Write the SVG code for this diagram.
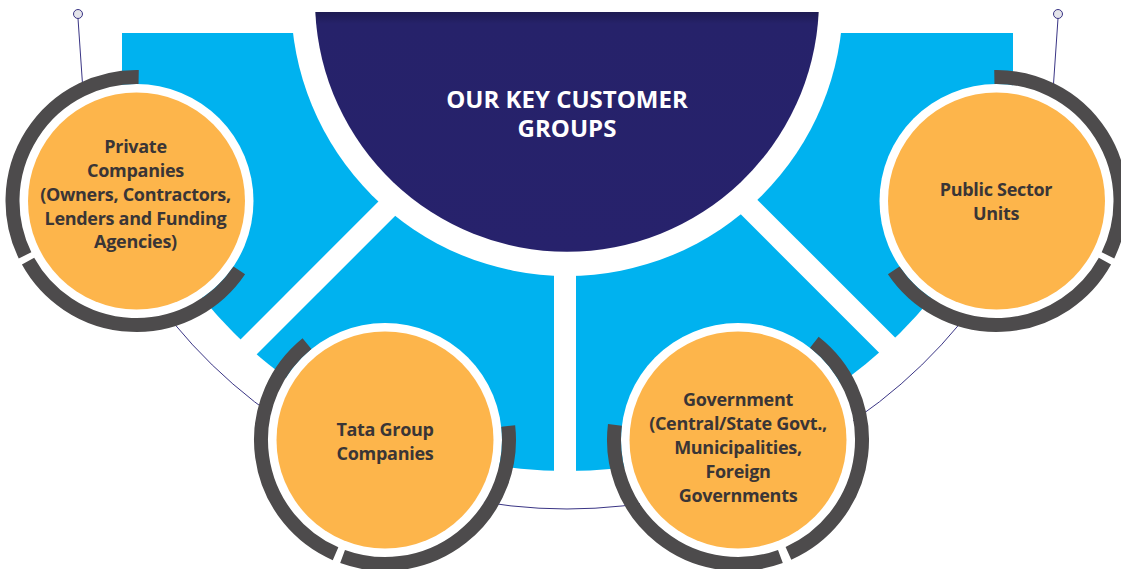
<svg xmlns="http://www.w3.org/2000/svg" width="1121" height="569" viewBox="0 0 1121 569">
  <style>
    .ring { fill: none; stroke: #4d4b4c; stroke-width: 14; }
    .disc { fill: #ffffff; }
    .core { fill: #fdb54b; }
    .lbl { font-family: "Open Sans", "Liberation Sans", sans-serif; font-weight: 700; font-size: 18px; letter-spacing: -0.3px; fill: #3a3536; text-anchor: middle; }
    .hdr { font-family: "Open Sans", "Liberation Sans", sans-serif; font-weight: 700; font-size: 24px; fill: #ffffff; text-anchor: middle; }
    .thin { fill: none; stroke: #3a3585; stroke-width: 1; }
  </style>
  <defs>
    <clipPath id="fanClip">
      <rect x="122" y="33" width="891" height="480"/>
    </clipPath>
    <linearGradient id="navy" x1="0" y1="12" x2="0" y2="252" gradientUnits="userSpaceOnUse">
      <stop offset="0" stop-color="#1e1b52"/>
      <stop offset="0.05" stop-color="#26226a"/>
      <stop offset="1" stop-color="#27226c"/>
    </linearGradient>
  </defs>
  <rect width="1121" height="569" fill="#ffffff"/>

  <!-- blue fan -->
  <g id="fan">
    <circle cx="567" cy="0" r="471" fill="#00b2ef" clip-path="url(#fanClip)"/>
    <circle cx="567" cy="0" r="276" fill="#ffffff"/>
    <line x1="405" y1="190.5" x2="150" y2="445.5" stroke="#ffffff" stroke-width="22"/>
    <line x1="729" y1="187" x2="984" y2="442" stroke="#ffffff" stroke-width="22"/>
    <line x1="565" y1="260" x2="565" y2="490" stroke="#ffffff" stroke-width="22"/>
  </g>

  <!-- connectors -->
  <g id="connectors">
    <path class="thin" d="M 174.25 323.76 A 509 509 0 0 0 959.75 323.76"/>
    <line class="thin" x1="78" y1="18.5" x2="82.5" y2="84"/>
    <line class="thin" x1="1058" y1="18.5" x2="1053.5" y2="84"/>
    <circle cx="78" cy="14" r="4.5" fill="#e4e4ea" stroke="#3a3585" stroke-width="1"/>
    <circle cx="1058" cy="14" r="4.5" fill="#e4e4ea" stroke="#3a3585" stroke-width="1"/>
  </g>

  <!-- central hub -->
  <g id="hub">
    <path d="M 315.3 12 A 252 252 0 0 0 818.7 12 Z" fill="url(#navy)"/>
    <text class="hdr" x="567" y="108">OUR KEY CUSTOMER</text>
    <text class="hdr" x="567" y="137">GROUPS</text>
  </g>

  <!-- Private Companies -->
  <g id="private-companies">
    <circle class="disc" cx="136.5" cy="201" r="117"/>
    <circle class="core" cx="136.5" cy="201" r="108.5"/>
    <path class="ring" d="M 25.05 255.36 A 124 124 0 0 1 138.66 77.02"/>
    <path class="ring" d="M 239.3 270.34 A 124 124 0 0 1 28.05 261.12"/>
    <text class="lbl" x="135.5" y="153">Private</text>
    <text class="lbl" x="135.5" y="177">Companies</text>
    <text class="lbl" x="135.5" y="201">(Owners, Contractors,</text>
    <text class="lbl" x="135.5" y="225">Lenders and Funding</text>
    <text class="lbl" x="135.5" y="248">Agencies)</text>
  </g>

  <!-- Public Sector Units -->
  <g id="public-sector-units">
    <circle class="disc" cx="996.5" cy="201" r="117"/>
    <circle class="core" cx="996.5" cy="201" r="108.5"/>
    <path class="ring" d="M 994.34 77.02 A 124 124 0 0 1 1107.95 255.36"/>
    <path class="ring" d="M 1104.95 261.12 A 124 124 0 0 1 893.7 270.34"/>
    <text class="lbl" x="996" y="196">Public Sector</text>
    <text class="lbl" x="996" y="220">Units</text>
  </g>

  <!-- Tata Group Companies -->
  <g id="tata-group">
    <circle class="disc" cx="385" cy="440" r="117"/>
    <circle class="core" cx="385" cy="440" r="108.5"/>
    <path class="ring" d="M 335.56 553.72 A 124 124 0 0 1 306.97 343.64"/>
    <path class="ring" d="M 508.2 425.96 A 124 124 0 0 1 342.59 556.52"/>
    <text class="lbl" x="385" y="436">Tata Group</text>
    <text class="lbl" x="385" y="460">Companies</text>
  </g>

  <!-- Government -->
  <g id="government">
    <circle class="disc" cx="738" cy="440" r="117"/>
    <circle class="core" cx="738" cy="440" r="108.5"/>
    <path class="ring" d="M 814.34 342.29 A 124 124 0 0 1 788.44 553.28"/>
    <path class="ring" d="M 780.41 556.52 A 124 124 0 0 1 614.92 424.89"/>
    <text class="lbl" x="738" y="406">Government</text>
    <text class="lbl" x="738" y="430">(Central/State Govt.,</text>
    <text class="lbl" x="738" y="454">Municipalities,</text>
    <text class="lbl" x="738" y="478">Foreign</text>
    <text class="lbl" x="738" y="502">Governments</text>
  </g>
</svg>
